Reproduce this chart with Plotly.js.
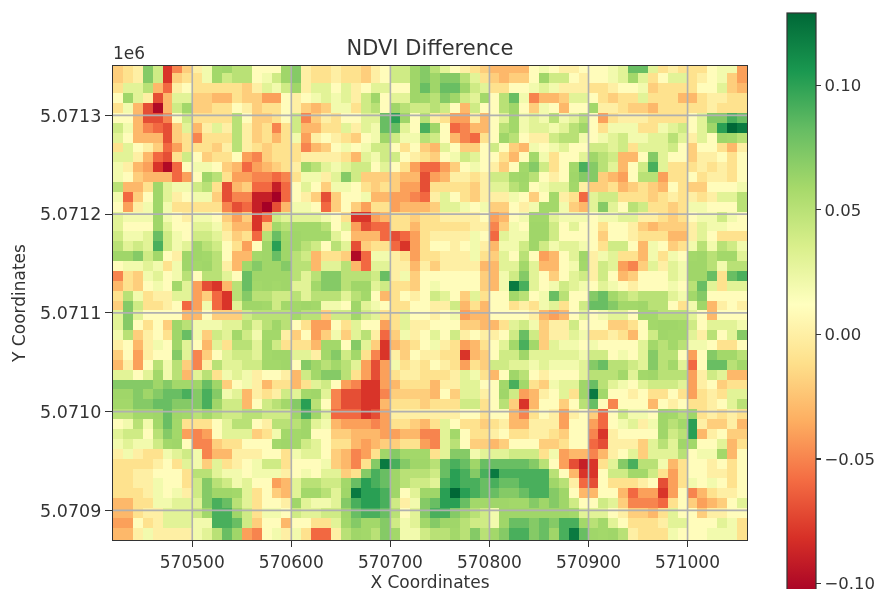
<!DOCTYPE html>
<html><head><meta charset="utf-8">
<script src="https://cdn.plot.ly/plotly-3.0.1.min.js"></script>
<style>html,body{margin:0;padding:0;background:#fff;overflow:hidden;width:882px;height:589px}#plot{filter:blur(0.6px)}</style>
</head><body><div id="plot"></div>
<script>
// Values are NDVI differences in hundredths, row by row from the top.
const r00=[-2,-1,0,8,4,-8,-5,-2,0,2,6,7,5,5,1,1,1,7,8,0,-1,-1,0,-1,-1,-2,0,1,4,4,7,8, 5,3,1,0,-1,-2,-3,-3,-3,-3,1,2,1,0,0,1,1,1,2,3,9,9,3,-1,0,-1,-1,-1,1,2,2,-4];
const r01=[-2,-1,0,8,4,-8,-2,-1,-1,2,6,4,5,5,1,2,4,7,8,0,-1,-1,0,-1,-1,-2,0,1,4,4,7,8, 7,8,8,5,3,-1,-2,-3,-2,-2,1,7,4,4,1,0,1,1,2,3,6,3,-1,1,3,3,-1,0,1,2,-2,-4];
const r02=[-1,3,3,5,-3,-6,0,1,-1,-1,-1,-1,-1,-2,0,3,2,4,7,0,3,3,1,3,0,1,3,3,1,1,7,9, 7,9,9,7,4,3,-1,-1,1,1,2,3,2,0,0,0,-1,-1,0,1,1,2,-2,-1,-1,-1,-1,1,1,3,-2,-3];
const r03=[1,7,3,0,-7,-3,3,3,-2,-2,-3,-3,-1,-2,-2,-4,-4,1,0,1,2,3,2,3,0,4,7,1,3,3,7,6, 5,8,7,4,3,6,1,5,9,2,-5,-3,-3,-2,3,3,1,-1,-2,-1,-1,3,-1,-1,-1,-3,-3,-1,0,0,-1,-1];
const r04=[-1,2,-3,-7,-10,-3,4,6,-2,-2,-1,-1,1,0,-2,-1,-1,1,0,-2,-3,-2,2,2,-1,4,5,1,7,5,4,4, 5,4,1,-3,4,1,1,5,7,1,-2,2,1,-3,1,1,6,0,0,-1,-2,-2,-3,-1,-1,-1,-1,-1,0,-1,-1,-1];
const r05=[1,1,-3,-7,-7,-5,1,4,-1,-1,-1,-1,5,1,-2,-2,-1,1,4,-5,-2,0,-1,1,1,3,3,9,11,7,1,5, 0,-1,-4,-4,0,-3,1,3,6,2,3,2,5,2,3,5,1,-4,-1,0,0,0,-1,-1,-1,-1,1,3,8,8,10,9];
const r06=[4,2,-3,-5,-6,-7,-2,3,-3,0,3,0,5,0,-2,-1,-5,-1,4,-3,-3,-1,-1,3,0,3,2,9,9,3,1,10, 7,1,-6,-5,-3,-3,1,5,6,2,3,3,2,3,5,7,1,-1,2,2,2,-1,-1,2,3,4,1,3,7,11,13,12];
const r07=[3,1,-3,-3,-3,-7,-2,-1,-5,-1,-1,-1,5,0,-2,-1,-3,-1,2,-4,0,1,0,-1,-2,1,2,7,4,2,2,5, 4,1,-3,-5,-6,-1,1,7,5,1,0,0,4,5,5,2,1,2,3,4,2,2,3,3,5,3,0,3,1,7,6,5];
const r08=[-1,3,1,0,-2,-6,-4,-1,-1,-1,-2,0,5,0,-1,-2,-1,-1,-1,-5,-3,-2,1,2,1,2,4,4,1,-1,1,-2, -3,3,1,-2,-2,1,4,1,-2,-3,2,1,2,3,1,1,4,4,3,4,-1,3,3,3,4,1,-2,1,1,-1,-3,0];
const r09=[3,3,0,-3,-6,-7,-1,4,1,-2,-1,-1,1,-4,-5,-2,-1,-1,-1,0,0,0,0,-1,-3,3,2,4,4,1,0,-1, -2,1,2,4,3,1,1,-1,-3,1,6,2,-1,1,1,3,7,5,4,-3,-3,1,8,3,1,1,-2,0,0,1,-1,1];
const r10=[2,0,-3,-4,-8,-10,-6,1,2,2,1,-2,-3,-6,-4,-3,-2,-1,0,7,5,3,2,3,4,4,1,3,1,-1,-4,-6, -6,-4,-2,1,2,1,0,-2,1,6,8,4,-1,1,6,10,8,5,3,-3,1,4,10,3,-1,-1,-1,0,-1,0,-1,1];
const r11=[2,1,-2,-3,-3,-3,-6,-4,1,7,5,-1,-4,-4,-5,-5,-6,-5,-1,2,2,0,3,8,4,-2,-2,-2,-2,-3,-3,-7, -4,-3,0,0,-1,0,4,4,6,7,5,1,0,1,7,8,8,-2,-3,-4,1,5,5,-4,-1,-1,1,-1,0,0,-1,1];
const r12=[5,-3,-3,-1,7,3,2,2,4,5,-1,-7,-3,-2,-6,-6,-9,-6,1,3,1,-2,2,2,1,-1,-2,-1,-2,-4,-4,-7, -1,-1,-1,-1,-2,0,3,3,5,6,1,2,3,3,6,0,-2,-2,-1,-3,-2,-1,-2,-3,1,-1,-2,-2,1,1,1,2];
const r13=[2,-6,-2,1,7,3,0,1,2,2,-2,-7,-5,-5,-9,-9,-11,-6,1,0,-2,-7,-2,1,1,2,-3,-3,-4,-4,-5,-6, 0,3,1,-1,-2,0,0,0,2,1,-2,1,6,0,-1,-6,3,4,4,-1,-1,-1,-2,-1,0,-1,0,-1,0,3,3,5];
const r14=[1,-4,0,2,7,2,-1,-1,-1,-1,-1,-5,-7,-6,-9,-11,-7,-3,2,2,1,-6,-2,1,-2,-4,-1,-1,-4,-3,-3,-3, -2,3,3,2,1,2,-2,-2,1,0,2,6,6,2,-2,-3,3,8,3,1,5,4,-1,-1,-2,-1,2,2,1,1,1,5];
const r15=[3,2,2,2,7,2,1,0,2,2,1,-2,-4,-2,-8,-6,4,3,3,3,3,2,1,-1,-8,-8,-4,-3,-1,-1,-2,-1, -1,0,0,0,0,1,-4,-3,1,2,6,6,3,2,2,2,1,2,2,3,3,0,0,-1,-2,-1,1,2,2,4,2,1];
const r16=[3,1,1,1,7,3,1,1,3,3,2,-1,-3,-3,-8,-2,6,5,6,6,6,5,1,3,-4,-7,-6,-6,-1,-1,-3,-1, -1,-1,-1,-1,0,0,-5,-2,2,1,7,7,4,1,3,1,1,-1,1,1,0,-2,-3,-2,-2,-2,0,3,2,2,1,1];
const r17=[4,2,2,3,9,4,2,1,4,4,3,0,-2,-1,-6,5,9,6,7,6,6,6,3,1,-3,-3,-3,-6,-7,-6,-4,-1, 0,0,0,0,2,1,-6,3,2,2,7,7,4,1,1,1,1,-2,1,1,0,-1,-1,-1,-3,-3,0,3,1,-1,-1,-1];
const r18=[5,3,4,3,10,4,2,3,7,5,4,1,-1,-4,1,7,11,7,7,5,4,1,5,3,-7,-2,-1,-1,-6,-8,-4,-1, 1,1,0,1,2,0,-3,2,2,4,7,4,2,3,3,2,1,-1,4,4,1,-3,2,1,-2,-1,2,5,2,5,4,2];
const r19=[7,7,8,4,6,1,0,7,7,6,5,1,-3,-3,6,7,9,7,5,4,-3,-1,-1,-2,-10,-6,2,2,0,-1,-4,-1, -1,0,0,0,2,-1,-2,3,1,5,1,-4,-3,1,3,7,0,2,3,-1,-1,-3,2,-1,2,1,6,7,5,6,6,3];
const r20=[1,2,2,3,2,-1,2,7,6,7,5,0,-3,6,8,7,7,8,5,5,-3,3,3,5,-3,-6,3,3,0,0,-3,0, -2,0,0,0,0,-3,-3,3,3,6,3,-3,-3,1,2,6,0,4,3,-4,-5,-2,3,0,3,2,7,7,5,2,5,5];
const r21=[-5,-1,-2,2,3,1,2,5,1,5,5,3,1,9,7,7,7,7,5,3,5,8,8,5,5,5,4,9,0,2,-2,1, 1,1,1,1,1,-2,-3,2,4,8,3,1,-2,1,3,4,0,4,1,-3,-2,1,1,1,3,2,7,7,9,-1,9,10];
const r22=[-3,-1,-2,1,2,1,6,3,-4,-7,-8,-3,5,9,6,7,6,7,3,3,6,8,8,5,7,7,3,4,-1,-1,-2,1, 2,1,1,1,1,-2,-3,2,12,10,3,1,2,4,3,2,1,3,2,1,0,1,1,1,2,1,5,9,3,-1,3,3];
const r23=[-1,5,2,-1,0,0,3,3,-4,-2,-6,-8,5,8,5,5,4,4,5,3,5,5,5,3,5,6,1,-3,-1,1,0,1, 4,3,1,-2,3,-1,1,1,6,5,1,2,9,5,1,1,8,9,6,5,4,5,5,5,3,2,6,8,1,1,1,1];
const r24=[-2,8,4,-1,-1,0,1,-6,-4,2,-6,-8,3,7,7,6,4,6,6,7,6,2,2,1,7,3,2,1,-1,-1,1,1, 0,0,4,-3,-1,-3,1,1,-1,0,-1,2,3,-1,1,4,9,9,8,6,6,7,5,5,1,-1,2,7,-3,0,1,0];
const r25=[3,8,3,1,1,1,1,-3,-3,1,-2,-2,-2,4,5,5,5,5,6,5,5,-2,4,4,7,4,3,-1,-1,3,1,1, 0,1,2,-4,-3,-3,1,1,1,1,0,-3,-4,-3,1,3,1,2,3,3,1,6,6,5,5,5,3,1,-3,1,1,1];
const r26=[3,8,1,-1,1,-2,7,5,2,2,2,3,3,5,3,5,7,5,1,-1,-4,-4,1,-1,3,1,1,-4,-1,3,0,0, 1,1,1,-2,-2,-3,-3,-1,3,4,2,-2,0,0,4,1,1,1,-2,-2,-1,1,6,7,7,6,4,1,3,3,3,2];
const r27=[2,5,-2,0,1,-1,7,9,2,-2,4,3,6,4,2,6,6,0,-2,1,-4,-2,2,-2,3,5,0,-6,-2,2,0,1, 3,1,4,0,1,0,0,1,4,9,4,-2,0,0,3,2,-1,-1,0,-1,-3,1,4,7,6,6,3,0,5,1,3,8];
const r28=[0,1,-3,0,2,1,7,3,1,-3,3,-1,5,5,3,7,4,-1,-1,-1,-3,6,6,1,8,3,-2,-8,-3,-2,-1,1, 2,0,-1,-4,-3,-1,1,3,6,10,6,-2,3,2,2,1,2,1,1,1,1,3,6,5,6,5,2,2,1,-1,-1,1];
const r29=[-2,1,-4,0,1,1,8,3,-5,-2,1,3,4,4,3,6,7,7,3,3,0,6,8,4,6,-1,-5,-8,0,-2,1,0, 0,-1,-1,-8,-3,-2,1,4,4,7,3,3,3,3,3,2,4,4,1,2,1,3,8,5,5,1,-4,1,8,6,6,5];
const r30=[-3,0,-4,1,5,2,5,-2,-5,0,5,3,3,4,4,6,6,7,1,8,7,5,6,5,3,-4,-7,-4,2,-1,0,-1, 1,0,-1,-4,-1,-2,4,4,3,3,2,3,2,2,2,3,8,9,5,5,4,3,8,5,6,3,-6,1,9,9,5,6];
const r31=[3,3,1,3,6,2,5,-3,3,5,-1,2,3,2,0,1,1,0,-3,4,6,8,8,5,-1,-4,-7,-4,-1,0,0,-1, -1,-1,0,3,2,-1,-3,1,7,5,1,0,1,1,1,3,5,5,5,6,3,6,7,5,5,5,-4,0,4,3,-3,-3];
const r32=[8,8,8,8,7,8,6,6,7,9,7,-2,1,2,0,-3,-1,-1,-3,-1,3,4,1,-4,-5,-8,-8,-4,-3,-1,-1,-1, -3,0,0,3,3,1,1,6,10,6,-1,-2,2,3,3,7,9,5,3,2,1,3,4,4,4,3,-4,0,1,-2,-1,-1];
const r33=[7,7,8,7,8,9,9,10,8,10,8,2,3,-3,0,-1,0,4,3,6,7,3,-5,-7,-7,-8,-8,-5,-2,-2,-2,-2, -3,1,-2,3,3,0,1,7,4,-4,-3,0,1,3,-1,7,12,6,1,1,0,1,-1,-1,1,-1,-4,-1,0,-1,3,3];
const r34=[6,6,8,8,9,9,8,8,8,10,7,4,4,-3,1,4,5,6,8,11,5,1,-5,-7,-7,-8,-8,-3,-1,-1,-1,-2, -1,-1,-1,4,4,-1,1,5,-2,-8,-3,1,1,-2,1,5,9,1,-5,1,1,1,-3,1,0,1,-1,-1,0,1,3,5];
const r35=[5,5,6,6,7,9,7,6,5,6,5,4,4,5,5,4,4,4,7,10,7,3,-6,-6,-6,-8,-7,-4,0,0,0,0, 0,0,0,1,1,-1,1,1,-3,-5,-1,1,0,-4,0,1,-2,-6,1,4,2,2,1,7,6,5,7,-1,0,-1,0,-1];
const r36=[1,2,5,2,6,9,6,-1,-1,-1,1,3,5,5,1,0,5,5,5,7,3,2,-3,-4,-4,-4,-5,-4,-1,-1,-2,-3, -1,3,1,-1,-1,-2,-1,0,-3,-3,0,0,0,-4,1,1,-4,-6,1,2,3,0,2,7,5,6,11,0,-2,-2,0,-3];
const r37=[3,4,4,1,5,8,6,-4,-5,-4,1,3,3,3,-2,-1,2,6,6,7,1,1,-2,-2,-3,-3,-3,-4,-4,-3,-3,-5, -5,3,6,1,-1,-1,0,1,-1,-1,0,0,-1,-2,1,1,-5,-8,0,1,1,1,1,7,4,5,11,-3,0,1,-2,-2];
const r38=[2,3,2,2,4,6,7,1,-5,-5,-2,-1,-1,1,1,1,6,7,6,4,3,1,-1,-1,-3,-4,-3,-2,-2,-1,-1,-4, -5,3,5,1,-2,-2,-3,-2,1,1,1,-2,-2,-1,1,1,-6,-7,0,0,0,-2,3,5,3,7,6,1,1,3,-3,-1];
const r39=[0,2,0,-1,-1,2,3,4,2,-5,-3,-3,0,0,0,1,1,-1,2,3,3,1,-2,-3,-5,-4,-1,7,8,6,6,6, -1,3,8,8,2,3,3,3,4,4,4,-1,2,-4,-3,-3,-5,-3,0,1,3,-2,3,3,3,5,1,2,2,6,-3,1];
const r40=[-1,-1,-1,-1,0,1,-1,3,2,-2,3,-1,0,1,2,4,4,-1,1,1,1,2,-2,-3,-5,-1,8,12,10,8,7,7, 5,9,10,9,7,9,9,9,9,9,8,5,1,-4,-7,-9,-8,-1,3,8,10,5,5,2,-3,-1,1,1,0,1,-1,1];
const r41=[-1,-1,0,0,1,1,1,-1,5,5,3,2,2,1,2,2,2,0,1,2,1,3,3,-2,-1,8,10,9,7,5,5,5, 4,9,11,10,8,10,12,10,10,10,10,10,5,1,-3,-8,-8,1,4,4,6,6,4,-1,-4,-1,1,1,0,0,-1,1];
const r42=[-1,-1,0,0,2,1,1,-1,4,8,5,4,2,3,1,1,-4,-3,3,5,5,4,4,6,9,11,10,9,7,5,4,4, 3,10,11,10,10,9,10,9,9,10,10,10,7,5,0,-6,-7,1,-1,-1,-1,0,1,-7,-4,-1,2,1,2,1,-1,1];
const r43=[-1,-1,-1,0,2,1,2,0,4,8,7,7,6,3,-1,1,-2,-3,3,6,6,5,3,7,12,11,11,10,7,1,3,7, 7,11,13,11,10,9,9,8,8,9,10,10,8,7,1,-3,-3,1,1,-3,-6,-4,-4,-8,-4,1,-5,-3,-1,0,0,1];
const r44=[-3,-3,-1,-1,2,2,3,3,3,8,10,9,5,3,-1,1,1,0,7,3,2,2,3,8,10,11,11,10,4,0,2,8, 9,11,11,9,6,6,7,7,6,6,8,7,8,7,4,1,1,4,3,-2,-5,-5,-5,-6,-1,1,-2,-4,-3,-2,1,3];
const r45=[-3,-3,-1,0,0,3,3,3,4,6,10,10,7,4,-1,2,2,1,4,3,3,4,4,7,9,10,10,9,5,1,3,8, 10,10,8,7,5,4,2,7,7,7,7,7,7,7,6,3,3,3,1,0,-2,-2,-3,-1,3,1,1,-2,0,0,1,1];
const r46=[-4,-4,1,-1,0,3,3,3,2,2,10,10,9,4,-2,1,1,-3,1,1,-1,-1,3,6,8,6,6,8,4,2,3,6, 8,7,7,5,4,4,2,7,9,9,8,9,8,10,10,6,5,6,3,1,-1,-1,-1,0,3,3,1,1,1,3,2,-1];
const r47=[-3,-3,0,2,0,0,0,0,2,3,5,9,7,-4,-5,1,2,0,2,-1,-6,-6,0,5,7,6,5,8,6,2,2,4, 5,5,6,5,8,5,6,8,10,10,8,9,7,10,12,9,7,6,7,5,0,-1,-1,-1,2,1,1,1,2,2,2,-1];
const r48=[-3,-3,0,2,0,0,0,0,2,3,5,9,7,-4,-5,1,2,0,2,-1,-6,-6,0,5,7,6,5,8,6,2,2,4, 5,5,6,5,8,5,6,8,10,10,8,9,7,10,12,9,7,6,7,5,0,-1,-1,-1,2,1,1,1,2,2,2,-1];
const rows=[r00,r01,r02,r03,r04,r05,r06,r07,r08,r09,r10,r11,r12,r13,r14,r15,r16,r17,r18,r19,r20,r21,r22,r23,r24,r25,r26,r27,r28,r29,r30,r31,r32,r33,r34,r35,r36,r37,r38,r39,r40,r41,r42,r43,r44,r45,r46,r47,r48];
const xTicks=[570500,570600,570700,570800,570900,571000];
const yTicks=[5070900,5071000,5071100,5071200,5071300];
const yTickText=['5.0709','5.0710','5.0711','5.0712','5.0713'];
const cbTicks=[-0.10,-0.05,0,0.05,0.10];
const cbText=['\u22120.10','\u22120.05','0.00','0.05','0.10'];
const rdYlGn=['#a50026','#d73027','#f46d43','#fdae61','#fee08b','#ffffbf','#d9ef8b','#a6d96a','#66bd63','#1a9850','#006837'];
const W=882,H=602,FONT='"DejaVu Sans",sans-serif',TXT='#333333';
const PL=113,PR=747,PT=66,PB=540;
// my eye read the mid greens about one step too dark on the first pass
const calibrate=v=>(v>=7&&v<=11)?v-0.9:v;
const grid=[
 ...xTicks.map(v=>({type:'line',xref:'x',yref:'paper',x0:v,x1:v,y0:0,y1:1,line:{color:'#b0b0b0',width:1.6},layer:'above'})),
 ...yTicks.map(v=>({type:'line',xref:'paper',yref:'y',x0:0,x1:1,y0:v,y1:v,line:{color:'#b0b0b0',width:1.6},layer:'above'}))
];
Plotly.newPlot('plot',[{
 type:'heatmap',z:rows.map(r=>r.map(v=>calibrate(v)/100)),x0:570425,dx:10,y0:5071347.5,dy:-10,
 zmin:-0.105,zmax:0.129,zsmooth:false,hoverinfo:'skip',
 colorscale:rdYlGn.map((c,i)=>[i/10,c]),
 colorbar:{x:(787-PL)/(PR-PL),xanchor:'left',y:(PB-304.5)/(PB-PT),yanchor:'middle',
  lenmode:'pixels',len:583,thicknessmode:'pixels',thickness:29,xpad:0,ypad:0,
  outlinecolor:'#333',outlinewidth:1.2,tickmode:'array',tickvals:cbTicks,ticktext:cbText,
  ticks:'outside',ticklen:5,tickcolor:'#333',tickwidth:1.2,tickfont:{family:FONT,size:16.5,color:TXT}}
}],{
 width:W,height:H,paper_bgcolor:'#fff',plot_bgcolor:'#fff',showlegend:false,
 margin:{l:PL,r:W-PR,t:PT,b:H-PB,pad:0,autoexpand:false},
 title:{text:'NDVI Difference',font:{family:FONT,size:21,color:TXT},x:430/W,xanchor:'center',y:1-48/H,yanchor:'middle'},
 xaxis:{range:[570420,571060],tickmode:'array',tickvals:xTicks,ticktext:xTicks.map(String),showgrid:false,zeroline:false,
  showline:true,mirror:true,linecolor:'#333',linewidth:1.2,ticks:'outside',ticklen:6,tickcolor:'#333',tickwidth:1.2,layer:'above traces',
  tickfont:{family:FONT,size:17,color:TXT},title:{text:'X Coordinates',standoff:3,font:{family:FONT,size:17,color:TXT}}},
 yaxis:{range:[5070870,5071350],tickmode:'array',tickvals:yTicks,ticktext:yTickText,showgrid:false,zeroline:false,
  showline:true,mirror:true,linecolor:'#333',linewidth:1.2,ticks:'outside',ticklen:7,tickcolor:'#333',tickwidth:1.2,layer:'above traces',
  tickfont:{family:FONT,size:17.5,color:TXT},title:{text:'Y Coordinates',standoff:10,font:{family:FONT,size:17,color:TXT}}},
 shapes:grid,
 annotations:[{xref:'paper',yref:'paper',x:0,y:1,xanchor:'left',yanchor:'bottom',yshift:1,xshift:-2,showarrow:false,text:'1e6',font:{family:FONT,size:17,color:TXT}}]
},{displayModeBar:false,staticPlot:true});
</script></body></html>
